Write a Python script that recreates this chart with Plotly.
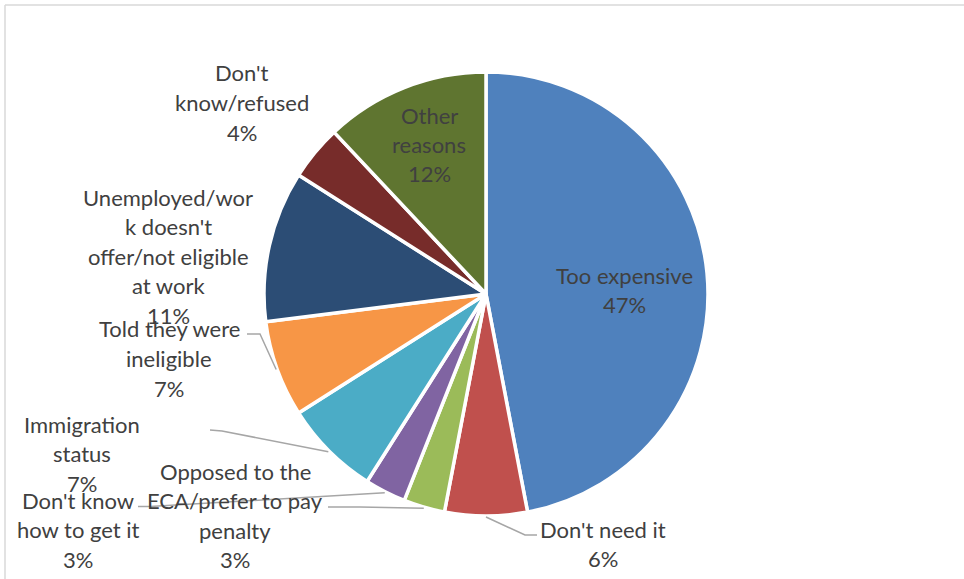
import math
import plotly.graph_objects as go

# ---------------- data ----------------
categories = [
    "Too expensive",
    "Don't need it",
    "Opposed to the ECA/prefer to pay penalty",
    "Don't know how to get it",
    "Immigration status",
    "Told they were ineligible",
    "Unemployed/work doesn't offer/not eligible at work",
    "Don't know/refused",
    "Other reasons",
]
values = [47, 6, 3, 3, 7, 7, 11, 4, 12]
label_lines = [
    ["Too expensive"],
    ["Don't need it"],
    ["Opposed to the", "ECA/prefer to pay", "penalty"],
    ["Don't know", "how to get it"],
    ["Immigration", "status"],
    ["Told they were", "ineligible"],
    ["Unemployed/wor", "k doesn't", "offer/not eligible", "at work"],
    ["Don't", "know/refused"],
    ["Other", "reasons"],
]
colors = ["#4F81BD", "#C0504D", "#9BBB59", "#8064A2", "#4BACC6",
          "#F79646", "#2C4D75", "#772C2A", "#5F7530"]

# ---------------- layout constants ----------------
W, H = 964, 579
CX, CY, R = 486, 294, 222          # pie centre / radius in pixels
LINE_H = 29.5
FONT = dict(family="Lato, 'Open Sans', sans-serif", size=22, color="#404040")

# label block positions: (centre x, y of first line) in pixels
label_pos = [
    (624, 275),
    (603, 529),
    (235, 471),
    (78, 500),
    (82, 424),
    (169, 329),
    (168, 197),
    (242, 73),
    (429, 115),
]
# leader line bend/end points after the slice-edge start point (None = no leader)
leader_paths = [
    None,
    [(525, 535), (537, 535)],
    [(360, 507), (328, 507)],
    [(150, 506.5), (138, 506.5)],
    [(222, 431), (210, 430)],
    [(260, 334), (247, 334)],
    None,
    None,
    None,
]


def px(x):
    return x / W


def py(y):
    return 1 - y / H


total = sum(values)

fig = go.Figure(go.Pie(
    labels=categories,
    values=values,
    sort=False,
    direction="clockwise",
    rotation=0,
    marker=dict(colors=colors, line=dict(color="white", width=3.5)),
    textinfo="none",
    hoverinfo="label+percent",
    domain=dict(x=[px(CX - R), px(CX + R)], y=[py(CY + R), py(CY - R)]),
    showlegend=False,
))

annotations = []
shapes = []
cum = 0
for i, v in enumerate(values):
    pct = f"{round(v / total * 100)}%"
    lines = label_lines[i] + [pct]
    cx, y0 = label_pos[i]
    for k, t in enumerate(lines):
        annotations.append(dict(
            x=px(cx), y=py(y0 + k * LINE_H), xref="paper", yref="paper",
            text=t, showarrow=False, xanchor="center", yanchor="middle",
            font=FONT,
        ))
    mid = (cum + v / 2) / total * 2 * math.pi
    cum += v
    if leader_paths[i]:
        sx = CX + (R + 1) * math.sin(mid)
        sy = CY - (R + 1) * math.cos(mid)
        pts = [(sx, sy)] + leader_paths[i]
        path = "M " + " L ".join(f"{px(a):.5f},{py(b):.5f}" for a, b in pts)
        shapes.append(dict(type="path", xref="paper", yref="paper", path=path,
                           line=dict(color="#A6A6A6", width=1.5)))

# chart frame (top and left edges visible)
shapes.append(dict(type="line", xref="paper", yref="paper",
                   x0=px(5), y0=py(5), x1=1.01, y1=py(5),
                   line=dict(color="#D9D9D9", width=1.5)))
shapes.append(dict(type="line", xref="paper", yref="paper",
                   x0=px(5), y0=py(5), x1=px(5), y1=-0.01,
                   line=dict(color="#D9D9D9", width=1.5)))

fig.update_layout(
    width=W, height=H,
    margin=dict(l=0, r=0, t=0, b=0),
    paper_bgcolor="white",
    plot_bgcolor="white",
    annotations=annotations,
    shapes=shapes,
)

fig.write_html(
    "out.html",
    config={"displayModeBar": False},
    post_script="document.body.style.margin='0';document.body.style.overflow='hidden';",
)
